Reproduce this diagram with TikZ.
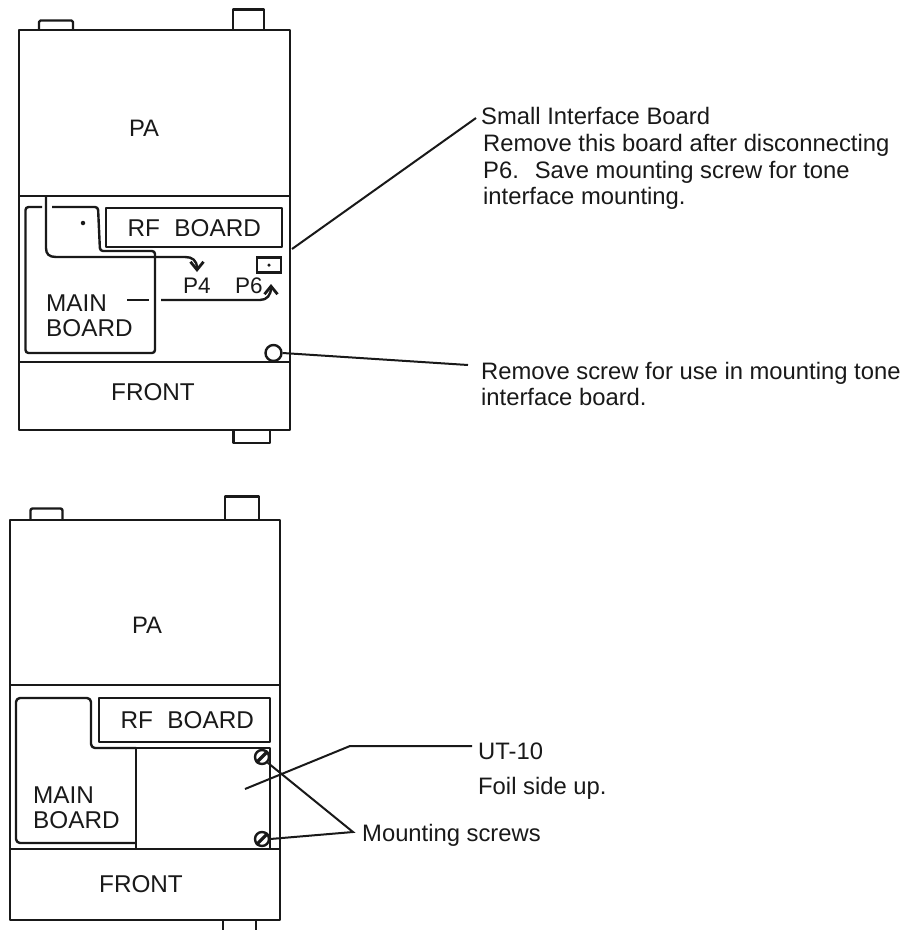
\documentclass[tikz,border=0pt]{standalone}
\usepackage{fontspec}
\setmainfont{Liberation Sans}
\usetikzlibrary{arrows.meta}
\tikzset{
  heavy/.style={line width=2.4pt,draw=black!90,line join=round},
  lead/.style={line width=2pt,draw=black!90},
  barb/.style={-{Straight Barb[length=8pt,width=13pt,line width=2.8pt]}},
  lbl/.style={inner sep=0pt,font=\fontsize{23.8}{26.8}\selectfont,text=black!90},
  blbl/.style={inner sep=0pt,font=\fontsize{24.3}{25.3}\selectfont,text=black!90},
  plbl/.style={inner sep=0pt,font=\fontsize{22.5}{25}\selectfont,text=black!90},
  note/.style={lbl,anchor=west,align=left},
  dot/.style={circle,fill=black!90,inner sep=0pt,minimum size=4.5pt},
  screw/.style={circle,draw=black!90,line width=2.4pt,fill=white,inner sep=0pt,minimum size=14pt}
}
\begin{document}
\begin{tikzpicture}[x=1pt,y=-1pt]
\useasboundingbox (0,0) rectangle (907,930);
\fill[white] (0,0) rectangle (907,930);

% --- upper unit ---
\draw[heavy] (39,29) -- (39,22) [rounded corners=1.5pt] -- (39,20.5) -- (73,20.5) -- (73,29);
\draw[heavy] (233,29) -- (233,9.5) -- (264,9.5) -- (264,29);
\draw[heavy] (233.5,429) -- (233.5,443) -- (270,443) -- (270,429);
\node[heavy,draw,minimum width=271pt,minimum height=400pt,anchor=north west,inner sep=0pt] (unitA) at (18,29) {};
\coordinate (midA1) at (18,196); \coordinate (midA2) at (289,196);
\coordinate (frontA1) at (18,362); \coordinate (frontA2) at (289,362);
\draw[heavy] (midA1) -- (midA2);
\draw[heavy] (frontA1) -- (frontA2);
\node[lbl] (paA) at (144,128) {PA};
\node[blbl] (frontA) at (153,392) {FRONT};

\node[heavy,draw,minimum width=176pt,minimum height=39pt,anchor=north west,inner sep=0pt,blbl] (rfA) at (105,207) {RF\hspace{0.6em}BOARD\hspace{6pt}};
\draw[heavy,rounded corners=3pt] (42,207) -- (25.5,207) -- (25.5,353) -- (155,353) -- (155,251) -- (100,251) -- (98,207) -- (52,207);
\node[blbl,anchor=west,align=left] (mainA) at (46,316) {MAIN\\BOARD};
\node[dot] (dotA) at (83,223) {};
\node[draw=black!90,line width=2.4pt,minimum width=24pt,minimum height=15pt,inner sep=0pt] (p6box) at (269,265) {};
\node[dot,minimum size=3.5pt] (p6dot) at (269,265) {};
\node[plbl] (p4) at (197,286) {P4};
\node[plbl] (p6) at (249,286) {P6};

\coordinate (w1) at (46,196);
\coordinate (w2) at (197,272);
\draw[heavy,barb] (w1) -- (46,248) .. controls (46,254) and (49,257) .. (56,257) -- (185,257) .. controls (192,257) and (197,260) .. (w2);
\coordinate (w3) at (127,300); \coordinate (w4) at (149,300);
\coordinate (w5) at (161,300); \coordinate (w6) at (271,284);
\draw[heavy] (w3) -- (w4);
\draw[heavy,barb] (w5) -- (260,300) .. controls (267,300) and (271,295) .. (w6);

\node[circle,draw=black!90,line width=2.4pt,fill=white,inner sep=0pt,minimum size=16pt] (screwA) at (273.5,353) {};

\coordinate (leadA0) at (292,249);
\coordinate (leadA1) at (476,118);
\draw[lead] (leadA0) -- (leadA1);
\coordinate (leadB1) at (468,365);
\draw[lead] (screwA.east) -- (leadB1);

\node[note] (t1) at (481,116) {Small Interface Board};
\node[note] (t2) at (483,172) {Remove this board after disconnecting\\P6.\hspace{0.3em} Save mounting screw for tone\\interface mounting.};
\node[note] (t3) at (481,384) {Remove screw for use in mounting tone\\interface board.};

% --- lower unit ---
\draw[heavy,rounded corners=2pt] (30.5,519) -- (30.5,508.5) -- (62.5,508.5) -- (62.5,519);
\draw[heavy] (225,519) -- (225,496.5) -- (259,496.5) -- (259,519);
\draw[heavy] (223,919) -- (223,930);
\draw[heavy] (256,919) -- (256,930);
\node[heavy,draw,minimum width=269.5pt,minimum height=400pt,anchor=north west,inner sep=0pt] (unitB) at (9,519) {};
\coordinate (midB1) at (9,685); \coordinate (midB2) at (278.5,685);
\coordinate (frontB1) at (9,849); \coordinate (frontB2) at (278.5,849);
\draw[heavy] (midB1) -- (midB2);
\draw[heavy] (frontB1) -- (frontB2);
\node[lbl] (paB) at (147,625) {PA};
\node[blbl] (frontB) at (141,884) {FRONT};

\node[heavy,draw,minimum width=171pt,minimum height=44pt,anchor=north west,inner sep=0pt,blbl] (rfB) at (98,697) {\hspace{5pt}RF\hspace{0.6em}BOARD};
\draw[heavy,rounded corners=4pt] (136,843) -- (16,843) -- (16,698) -- (91,698) -- (91,748) -- (136,748);
\draw[heavy] (136,748) -- (270,748) -- (270,849);
\draw[heavy] (136,748) -- (136,849);
\node[blbl,anchor=west,align=left] (mainB) at (33,808) {MAIN\\BOARD};

\node[screw] (s1) at (262,757) {};
\node[screw] (s2) at (262,839) {};
\draw[heavy,line width=3.2pt] (s1.south west) -- (s1.north east);
\draw[heavy,line width=3.2pt] (s2.south west) -- (s2.north east);

\node[note] (ut) at (478,751) {UT-10};
\node[note] (foil) at (478,788) {Foil side up.};
\node[note] (ms) at (362,835) {Mounting screws};

\coordinate (utstart) at (245,789);
\draw[lead] (utstart) -- (350,746) -- (472,746);
\coordinate (msjoin) at (353,832);
\draw[lead] (s1.south east) -- (msjoin) -- (s2.east);
\end{tikzpicture}
\end{document}
